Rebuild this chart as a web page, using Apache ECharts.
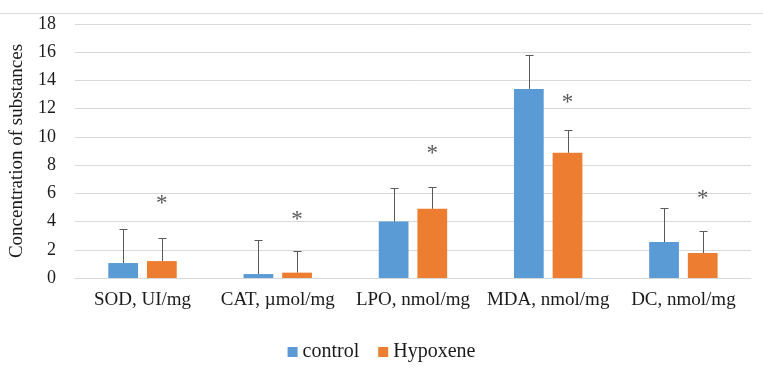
<!DOCTYPE html>
<html>
<head>
<meta charset="utf-8">
<script src="https://cdn.jsdelivr.net/npm/echarts@6/dist/echarts.min.js"></script>
<style>
  html, body { margin: 0; padding: 0; background: #fff; }
  #main { width: 763px; height: 369px; }
</style>
</head>
<body>
<div id="main"></div>
<script>
// values
var categories = ['SOD, UI/mg', 'CAT, \u00b5mol/mg', 'LPO, nmol/mg', 'MDA, nmol/mg', 'DC, nmol/mg'];
var controlValues = [1.06, 0.28, 4.0, 13.4, 2.55];
var controlErr = [2.39, 2.42, 2.36, 2.4, 2.39];
var hypoxeneValues = [1.2, 0.38, 4.9, 8.87, 1.77];
var hypoxeneErr = [1.62, 1.51, 1.53, 1.6, 1.56];
var starLevels = [5.4, 4.25, 8.9, 12.55, 5.72];
var yMin = 0, yMax = 18, yStep = 2;

var FONT = '"Liberation Serif", "Times New Roman", serif';
var BAR_W = 0.22, BAR_GAP = 0.3;

var chart = echarts.init(document.getElementById('main'), null, { renderer: 'canvas' });

function barCenter(api, i, sign) {
    var band = api.size([1, 0])[0];
    var bw = band * BAR_W;
    var gap = bw * BAR_GAP;
    return api.coord([i, 0])[0] + sign * (bw + gap) / 2;
}

function errorRenderer(sign) {
    return function (params, api) {
        var i = api.value(0);
        var cx = Math.round(barCenter(api, i, sign)) + 0.5;
        var yb = api.coord([i, api.value(1)])[1];
        var yt = Math.round(api.coord([i, api.value(2)])[1]) + 0.5;
        var st = { stroke: '#595959', lineWidth: 1 };
        return {
            type: 'group',
            children: [
                { type: 'line', shape: { x1: cx, y1: yb, x2: cx, y2: yt }, style: st },
                { type: 'line', shape: { x1: cx - 4, y1: yt, x2: cx + 4, y2: yt }, style: st }
            ]
        };
    };
}

var controlErrData = controlValues.map(function (v, i) { return [i, v, v + controlErr[i]]; });
var hypoxeneErrData = hypoxeneValues.map(function (v, i) { return [i, v, v + hypoxeneErr[i]]; });
var starData = starLevels.map(function (v, i) { return [i, v]; });

chart.setOption({
    animation: false,
    backgroundColor: '#fff',
    textStyle: { fontFamily: FONT },
    grid: { left: 72, right: 12, top: 24, bottom: 91 },
    legend: {
        data: ['control', 'Hypoxene'],
        left: 'center',
        top: 337,
        itemWidth: 10,
        itemHeight: 10,
        itemGap: 19,
        icon: 'rect',
        textStyle: { fontFamily: FONT, fontSize: 20, color: '#1a1a1a' }
    },
    graphic: [{
        type: 'line',
        shape: { x1: 0, y1: 13.5, x2: 763, y2: 13.5 },
        style: { stroke: '#d9d9d9', lineWidth: 1 },
        silent: true
    }],
    xAxis: {
        type: 'category',
        data: categories,
        axisTick: { show: false },
        axisLine: { lineStyle: { color: '#d9d9d9' } },
        axisLabel: {
            fontFamily: FONT, fontSize: 19, color: '#1a1a1a', margin: 13,
            interval: 0, hideOverlap: false
        }
    },
    yAxis: {
        type: 'value',
        min: yMin,
        max: yMax,
        interval: yStep,
        name: 'Concentration of substances',
        nameLocation: 'middle',
        nameGap: 47,
        nameTextStyle: { fontFamily: FONT, fontSize: 19, color: '#1a1a1a' },
        axisLine: { show: false },
        axisTick: { show: false },
        axisLabel: { fontFamily: FONT, fontSize: 18, color: '#1a1a1a', margin: 19 },
        splitLine: { lineStyle: { color: '#d9d9d9' } }
    },
    series: [
        {
            name: 'control',
            type: 'bar',
            data: controlValues,
            barWidth: (BAR_W * 100) + '%',
            barGap: (BAR_GAP * 100) + '%',
            itemStyle: { color: '#5b9bd5' }
        },
        {
            name: 'Hypoxene',
            type: 'bar',
            data: hypoxeneValues,
            barWidth: (BAR_W * 100) + '%',
            barGap: (BAR_GAP * 100) + '%',
            itemStyle: { color: '#ed7d31' }
        },
        {
            type: 'custom',
            renderItem: errorRenderer(-1),
            data: controlErrData,
            encode: { x: 0, y: 2 },
            z: 5,
            silent: true
        },
        {
            type: 'custom',
            renderItem: errorRenderer(1),
            data: hypoxeneErrData,
            encode: { x: 0, y: 2 },
            z: 5,
            silent: true
        },
        {
            type: 'custom',
            data: starData,
            encode: { x: 0, y: 1 },
            z: 5,
            silent: true,
            renderItem: function (params, api) {
                var i = api.value(0);
                var cx = barCenter(api, i, 1);
                var cy = api.coord([i, api.value(1)])[1];
                return {
                    type: 'text',
                    style: {
                        text: '*',
                        x: cx,
                        y: cy + 2,
                        align: 'center',
                        verticalAlign: 'middle',
                        font: '23px ' + FONT,
                        fill: '#595959'
                    }
                };
            }
        }
    ]
});
</script>
</body>
</html>
